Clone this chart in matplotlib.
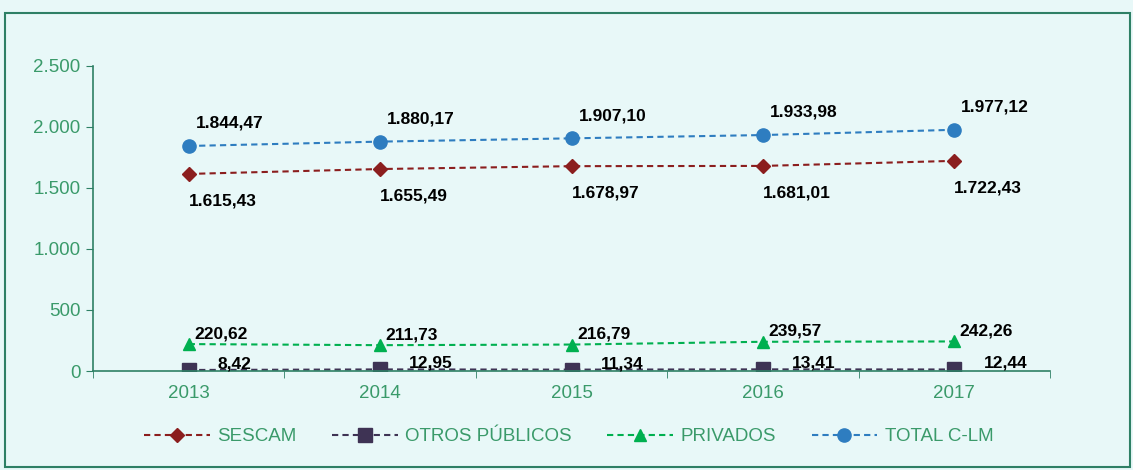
import matplotlib.pyplot as plt
from matplotlib.patches import Rectangle

years = ["2013", "2014", "2015", "2016", "2017"]
sescam = [1615.43, 1655.49, 1678.97, 1681.01, 1722.43]
otros = [8.42, 12.95, 11.34, 13.41, 12.44]
privados = [220.62, 211.73, 216.79, 239.57, 242.26]
total = [1844.47, 1880.17, 1907.10, 1933.98, 1977.12]

BG = "#E8F8F8"
TXT = "#3A9A6A"
AX = "#2E8065"


def fmt(v):
    s = f"{v:,.2f}"
    return s.replace(",", "X").replace(".", ",").replace("X", ".")


plt.rcParams["font.family"] = ["Liberation Sans", "DejaVu Sans"]

fig = plt.figure(figsize=(11.33, 4.70), dpi=100, facecolor=BG)
fig.patches.append(Rectangle((0.004, 0.006), 0.993, 0.966, transform=fig.transFigure,
                             fill=False, edgecolor=AX, linewidth=1.5))
ax = fig.add_axes([93 / 1133, 1 - 371 / 470, (1050 - 93) / 1133, (371 - 66) / 470])
ax.set_facecolor(BG)

x = list(range(len(years)))
series = [
    ("SESCAM", sescam, "#8B1E1E", "D", 7.5),
    ("OTROS PÚBLICOS", otros, "#3E3354", "s", 10),
    ("PRIVADOS", privados, "#00B050", "^", 9),
    ("TOTAL C-LM", total, "#2E7DC0", "o", 9.5),
]
for name, vals, col, mk, ms in series:
    ax.plot(x, vals, linestyle=(0, (3, 2)), color=col, marker=mk, markersize=ms,
            linewidth=1.5, label=name)

lab = dict(fontsize=12.5, fontweight="bold", color="black")
for i in x:
    ax.annotate(fmt(total[i]), (i, total[i]), xytext=(5, 11), textcoords="offset points",
                ha="left", va="bottom", **lab)
    ax.annotate(fmt(sescam[i]), (i, sescam[i]), xytext=(0, -14), textcoords="offset points",
                ha="left", va="top", **lab)
    ax.annotate(fmt(privados[i]), (i, privados[i]), xytext=(4, 2), textcoords="offset points",
                ha="left", va="bottom", **lab)
    ax.annotate(fmt(otros[i]), (i, otros[i]), xytext=(21, -1), textcoords="offset points",
                ha="left", va="bottom", **lab)

ax.set_xlim(-0.5, len(years) - 0.5)
ax.set_ylim(0, 2500)
ax.set_yticks([0, 500, 1000, 1500, 2000, 2500])
ax.set_yticklabels(["0", "500", "1.000", "1.500", "2.000", "2.500"])
ax.set_xticks(x)
ax.set_xticklabels(years)
ax.set_xticks([i - 0.5 for i in range(len(years) + 1)], minor=True)
ax.tick_params(axis="x", which="major", length=0, pad=10, labelsize=13.5, labelcolor=TXT)
ax.tick_params(axis="x", which="minor", length=5, color=AX, direction="out")
ax.tick_params(axis="y", length=5, color=AX, labelsize=13.5, labelcolor=TXT, pad=4)
for s in ("top", "right"):
    ax.spines[s].set_visible(False)
for s in ("left", "bottom"):
    ax.spines[s].set_color(AX)
    ax.spines[s].set_linewidth(1.2)

leg = ax.legend(loc="center", bbox_to_anchor=(0.497, -0.215), ncol=4, frameon=False,
                fontsize=13.5, handlelength=3.5, columnspacing=1.9, handletextpad=0.4)
for t in leg.get_texts():
    t.set_color(TXT)

fig.savefig("out.png", dpi=100, facecolor=BG)
